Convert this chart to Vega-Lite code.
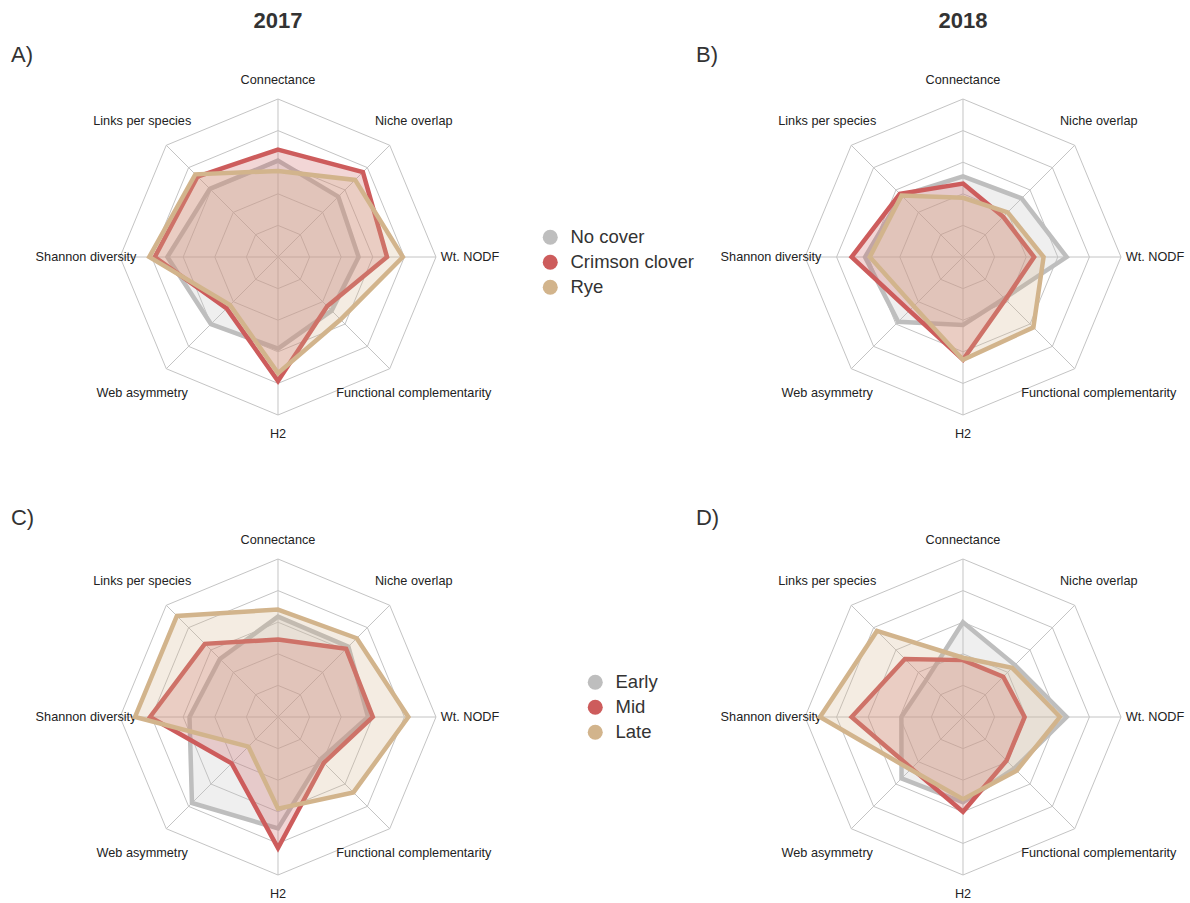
{
"$schema": "https://vega.github.io/schema/vega-lite/v6.json",
"padding": 0,
"background": "white",
"config": {"view": {"stroke": null}, "font": "Liberation Sans"},
"datasets": {
"polys": [
{"p":"A","g":"No cover","i":0,"v":0.61},{"p":"A","g":"No cover","i":1,"v":0.54},{"p":"A","g":"No cover","i":2,"v":0.51},{"p":"A","g":"No cover","i":3,"v":0.48},{"p":"A","g":"No cover","i":4,"v":0.58},{"p":"A","g":"No cover","i":5,"v":0.60},{"p":"A","g":"No cover","i":6,"v":0.70},{"p":"A","g":"No cover","i":7,"v":0.61},
{"p":"A","g":"Crimson clover","i":0,"v":0.68},{"p":"A","g":"Crimson clover","i":1,"v":0.76},{"p":"A","g":"Crimson clover","i":2,"v":0.69},{"p":"A","g":"Crimson clover","i":3,"v":0.44},{"p":"A","g":"Crimson clover","i":4,"v":0.785},{"p":"A","g":"Crimson clover","i":5,"v":0.46},{"p":"A","g":"Crimson clover","i":6,"v":0.78},{"p":"A","g":"Crimson clover","i":7,"v":0.72},
{"p":"A","g":"Rye","i":0,"v":0.545},{"p":"A","g":"Rye","i":1,"v":0.69},{"p":"A","g":"Rye","i":2,"v":0.79},{"p":"A","g":"Rye","i":3,"v":0.56},{"p":"A","g":"Rye","i":4,"v":0.735},{"p":"A","g":"Rye","i":5,"v":0.43},{"p":"A","g":"Rye","i":6,"v":0.815},{"p":"A","g":"Rye","i":7,"v":0.74},
{"p":"B","g":"No cover","i":0,"v":0.51},{"p":"B","g":"No cover","i":1,"v":0.525},{"p":"B","g":"No cover","i":2,"v":0.656},{"p":"B","g":"No cover","i":3,"v":0.37},{"p":"B","g":"No cover","i":4,"v":0.43},{"p":"B","g":"No cover","i":5,"v":0.58},{"p":"B","g":"No cover","i":6,"v":0.62},{"p":"B","g":"No cover","i":7,"v":0.55},
{"p":"B","g":"Crimson clover","i":0,"v":0.465},{"p":"B","g":"Crimson clover","i":1,"v":0.36},{"p":"B","g":"Crimson clover","i":2,"v":0.45},{"p":"B","g":"Crimson clover","i":3,"v":0.38},{"p":"B","g":"Crimson clover","i":4,"v":0.65},{"p":"B","g":"Crimson clover","i":5,"v":0.48},{"p":"B","g":"Crimson clover","i":6,"v":0.705},{"p":"B","g":"Crimson clover","i":7,"v":0.565},
{"p":"B","g":"Rye","i":0,"v":0.375},{"p":"B","g":"Rye","i":1,"v":0.40},{"p":"B","g":"Rye","i":2,"v":0.51},{"p":"B","g":"Rye","i":3,"v":0.63},{"p":"B","g":"Rye","i":4,"v":0.65},{"p":"B","g":"Rye","i":5,"v":0.44},{"p":"B","g":"Rye","i":6,"v":0.59},{"p":"B","g":"Rye","i":7,"v":0.55},
{"p":"C","g":"Early","i":0,"v":0.635},{"p":"C","g":"Early","i":1,"v":0.63},{"p":"C","g":"Early","i":2,"v":0.57},{"p":"C","g":"Early","i":3,"v":0.38},{"p":"C","g":"Early","i":4,"v":0.705},{"p":"C","g":"Early","i":5,"v":0.77},{"p":"C","g":"Early","i":6,"v":0.56},{"p":"C","g":"Early","i":7,"v":0.52},
{"p":"C","g":"Mid","i":0,"v":0.49},{"p":"C","g":"Mid","i":1,"v":0.61},{"p":"C","g":"Mid","i":2,"v":0.60},{"p":"C","g":"Mid","i":3,"v":0.41},{"p":"C","g":"Mid","i":4,"v":0.83},{"p":"C","g":"Mid","i":5,"v":0.415},{"p":"C","g":"Mid","i":6,"v":0.81},{"p":"C","g":"Mid","i":7,"v":0.655},
{"p":"C","g":"Late","i":0,"v":0.68},{"p":"C","g":"Late","i":1,"v":0.705},{"p":"C","g":"Late","i":2,"v":0.825},{"p":"C","g":"Late","i":3,"v":0.675},{"p":"C","g":"Late","i":4,"v":0.58},{"p":"C","g":"Late","i":5,"v":0.265},{"p":"C","g":"Late","i":6,"v":0.905},{"p":"C","g":"Late","i":7,"v":0.905},
{"p":"D","g":"Early","i":0,"v":0.60},{"p":"D","g":"Early","i":1,"v":0.465},{"p":"D","g":"Early","i":2,"v":0.656},{"p":"D","g":"Early","i":3,"v":0.46},{"p":"D","g":"Early","i":4,"v":0.54},{"p":"D","g":"Early","i":5,"v":0.55},{"p":"D","g":"Early","i":6,"v":0.39},{"p":"D","g":"Early","i":7,"v":0.33},
{"p":"D","g":"Mid","i":0,"v":0.36},{"p":"D","g":"Mid","i":1,"v":0.36},{"p":"D","g":"Mid","i":2,"v":0.39},{"p":"D","g":"Mid","i":3,"v":0.39},{"p":"D","g":"Mid","i":4,"v":0.60},{"p":"D","g":"Mid","i":5,"v":0.46},{"p":"D","g":"Mid","i":6,"v":0.705},{"p":"D","g":"Mid","i":7,"v":0.52},
{"p":"D","g":"Late","i":0,"v":0.375},{"p":"D","g":"Late","i":1,"v":0.44},{"p":"D","g":"Late","i":2,"v":0.614},{"p":"D","g":"Late","i":3,"v":0.48},{"p":"D","g":"Late","i":4,"v":0.52},{"p":"D","g":"Late","i":5,"v":0.47},{"p":"D","g":"Late","i":6,"v":0.905},{"p":"D","g":"Late","i":7,"v":0.77}
],
"grid": [
{"lvl":0.2,"i":0},{"lvl":0.2,"i":1},{"lvl":0.2,"i":2},{"lvl":0.2,"i":3},{"lvl":0.2,"i":4},{"lvl":0.2,"i":5},{"lvl":0.2,"i":6},{"lvl":0.2,"i":7},
{"lvl":0.4,"i":0},{"lvl":0.4,"i":1},{"lvl":0.4,"i":2},{"lvl":0.4,"i":3},{"lvl":0.4,"i":4},{"lvl":0.4,"i":5},{"lvl":0.4,"i":6},{"lvl":0.4,"i":7},
{"lvl":0.6,"i":0},{"lvl":0.6,"i":1},{"lvl":0.6,"i":2},{"lvl":0.6,"i":3},{"lvl":0.6,"i":4},{"lvl":0.6,"i":5},{"lvl":0.6,"i":6},{"lvl":0.6,"i":7},
{"lvl":0.8,"i":0},{"lvl":0.8,"i":1},{"lvl":0.8,"i":2},{"lvl":0.8,"i":3},{"lvl":0.8,"i":4},{"lvl":0.8,"i":5},{"lvl":0.8,"i":6},{"lvl":0.8,"i":7},
{"lvl":1.0,"i":0},{"lvl":1.0,"i":1},{"lvl":1.0,"i":2},{"lvl":1.0,"i":3},{"lvl":1.0,"i":4},{"lvl":1.0,"i":5},{"lvl":1.0,"i":6},{"lvl":1.0,"i":7}
],
"axes": [
{"i":0,"a":"Connectance"},{"i":1,"a":"Niche overlap"},{"i":2,"a":"Wt. NODF"},{"i":3,"a":"Functional complementarity"},{"i":4,"a":"H2"},{"i":5,"a":"Web asymmetry"},{"i":6,"a":"Shannon diversity"},{"i":7,"a":"Links per species"}
],
"tags": [
{"p":"A","k":"letter","t":"A)"},{"p":"A","k":"year","t":"2017"},
{"p":"B","k":"letter","t":"B)"},{"p":"B","k":"year","t":"2018"},
{"p":"C","k":"letter","t":"C)"},
{"p":"D","k":"letter","t":"D)"}
]
},
"spacing": 0,
"resolve": {"scale": {"x": "independent", "y": "independent", "fill": "independent", "stroke": "independent"}},
"vconcat": [
{
"hconcat": [
{
"width": 500, "height": 460,
"layer": [
{"data": {"name": "grid"}, "transform": [{"calculate": "datum.lvl*sin(datum.i*PI/4)", "as": "gx"}, {"calculate": "datum.lvl*cos(datum.i*PI/4)", "as": "gy"}],
 "mark": {"type": "line", "interpolate": "linear-closed", "stroke": "#c4c4c4", "strokeWidth": 1},
 "encoding": {"x": {"field": "gx", "type": "quantitative", "scale": {"domain": [-1.7595, 1.4051], "nice": false, "zero": false}, "axis": null}, "y": {"field": "gy", "type": "quantitative", "scale": {"domain": [-1.2848, 1.6266], "nice": false, "zero": false}, "axis": null}, "detail": {"field": "lvl", "type": "nominal"}, "order": {"field": "i", "type": "quantitative"}}},
{"data": {"name": "axes"}, "transform": [{"calculate": "sin(datum.i*PI/4)", "as": "ox"}, {"calculate": "cos(datum.i*PI/4)", "as": "oy"}],
 "mark": {"type": "rule", "stroke": "#c4c4c4", "strokeWidth": 1},
 "encoding": {"x": {"field": "ox", "type": "quantitative", "scale": {"domain": [-1.7595, 1.4051], "nice": false, "zero": false}, "axis": null}, "y": {"field": "oy", "type": "quantitative", "scale": {"domain": [-1.2848, 1.6266], "nice": false, "zero": false}, "axis": null}, "x2": {"datum": 0}, "y2": {"datum": 0}}},
{"data": {"name": "axes"}, "transform": [{"calculate": "(datum.i==0||datum.i==4)?1.12:1.215", "as": "lr"}, {"calculate": "datum.lr*sin(datum.i*PI/4)", "as": "lx"}, {"calculate": "datum.lr*cos(datum.i*PI/4)", "as": "ly"}],
 "mark": {"type": "text", "fontSize": 12.7, "font": "Liberation Sans", "fill": "#222", "align": "center", "baseline": "middle"},
 "encoding": {"x": {"field": "lx", "type": "quantitative", "scale": {"domain": [-1.7595, 1.4051], "nice": false, "zero": false}, "axis": null}, "y": {"field": "ly", "type": "quantitative", "scale": {"domain": [-1.2848, 1.6266], "nice": false, "zero": false}, "axis": null}, "text": {"field": "a", "type": "nominal"}}},
{"data": {"name": "polys"}, "transform": [{"filter": "datum.p=='A'"}, {"calculate": "datum.v*sin(datum.i*PI/4)", "as": "px"}, {"calculate": "datum.v*cos(datum.i*PI/4)", "as": "py"}],
 "encoding": {"x": {"field": "px", "type": "quantitative", "scale": {"domain": [-1.7595, 1.4051], "nice": false, "zero": false}, "axis": null}, "y": {"field": "py", "type": "quantitative", "scale": {"domain": [-1.2848, 1.6266], "nice": false, "zero": false}, "axis": null}, "order": {"field": "i", "type": "quantitative"},
  "stroke": {"field": "g", "type": "nominal", "scale": {"domain": ["No cover", "Crimson clover", "Rye"], "range": ["#bebebe", "#cd5c5c", "#d2b48c"]}, "legend": null},
  "fill": {"field": "g", "type": "nominal", "scale": {"domain": ["No cover", "Crimson clover", "Rye"], "range": ["#bebebe", "#cd5c5c", "#d2b48c"]}, "legend": {"title": null, "orient": "none", "legendX": 541, "legendY": 228, "symbolType": "circle", "symbolSize": 225, "symbolOpacity": 1, "symbolStrokeWidth": 0, "labelFontSize": 18.5, "labelFont": "Liberation Sans", "labelColor": "#333", "labelOffset": 11, "rowPadding": 6}}},
 "layer": [
  {"transform": [{"filter": "datum.g=='No cover'"}], "mark": {"type": "line", "interpolate": "linear-closed", "strokeWidth": 4.5, "fillOpacity": 0.25}},
  {"transform": [{"filter": "datum.g=='Crimson clover'"}], "mark": {"type": "line", "interpolate": "linear-closed", "strokeWidth": 4.5, "fillOpacity": 0.25}},
  {"transform": [{"filter": "datum.g=='Rye'"}], "mark": {"type": "line", "interpolate": "linear-closed", "strokeWidth": 4.5, "fillOpacity": 0.25}}
 ]},
{"data": {"name": "tags"}, "transform": [{"filter": "datum.p=='A' && datum.k=='letter'"}],
 "mark": {"type": "text", "fontSize": 22, "font": "Liberation Sans", "fill": "#333", "align": "left", "baseline": "alphabetic"},
 "encoding": {"x": {"datum": -1.69, "type": "quantitative", "scale": {"domain": [-1.7595, 1.4051], "nice": false, "zero": false}, "axis": null}, "y": {"datum": 1.234, "type": "quantitative", "scale": {"domain": [-1.2848, 1.6266], "nice": false, "zero": false}, "axis": null}, "text": {"field": "t", "type": "nominal"}}},
{"data": {"name": "tags"}, "transform": [{"filter": "datum.p=='A' && datum.k=='year'"}],
 "mark": {"type": "text", "fontSize": 22, "font": "Liberation Sans", "fontWeight": "bold", "fill": "#333", "align": "center", "baseline": "alphabetic"},
 "encoding": {"x": {"datum": 0, "type": "quantitative", "scale": {"domain": [-1.7595, 1.4051], "nice": false, "zero": false}, "axis": null}, "y": {"datum": 1.449, "type": "quantitative", "scale": {"domain": [-1.2848, 1.6266], "nice": false, "zero": false}, "axis": null}, "text": {"field": "t", "type": "nominal"}}}
]
},
{
"width": 500, "height": 460,
"layer": [
{"data": {"name": "grid"}, "transform": [{"calculate": "datum.lvl*sin(datum.i*PI/4)", "as": "gx"}, {"calculate": "datum.lvl*cos(datum.i*PI/4)", "as": "gy"}],
 "mark": {"type": "line", "interpolate": "linear-closed", "stroke": "#c4c4c4", "strokeWidth": 1},
 "encoding": {"x": {"field": "gx", "type": "quantitative", "scale": {"domain": [-1.7595, 1.4051], "nice": false, "zero": false}, "axis": null}, "y": {"field": "gy", "type": "quantitative", "scale": {"domain": [-1.2848, 1.6266], "nice": false, "zero": false}, "axis": null}, "detail": {"field": "lvl", "type": "nominal"}, "order": {"field": "i", "type": "quantitative"}}},
{"data": {"name": "axes"}, "transform": [{"calculate": "sin(datum.i*PI/4)", "as": "ox"}, {"calculate": "cos(datum.i*PI/4)", "as": "oy"}],
 "mark": {"type": "rule", "stroke": "#c4c4c4", "strokeWidth": 1},
 "encoding": {"x": {"field": "ox", "type": "quantitative", "scale": {"domain": [-1.7595, 1.4051], "nice": false, "zero": false}, "axis": null}, "y": {"field": "oy", "type": "quantitative", "scale": {"domain": [-1.2848, 1.6266], "nice": false, "zero": false}, "axis": null}, "x2": {"datum": 0}, "y2": {"datum": 0}}},
{"data": {"name": "axes"}, "transform": [{"calculate": "(datum.i==0||datum.i==4)?1.12:1.215", "as": "lr"}, {"calculate": "datum.lr*sin(datum.i*PI/4)", "as": "lx"}, {"calculate": "datum.lr*cos(datum.i*PI/4)", "as": "ly"}],
 "mark": {"type": "text", "fontSize": 12.7, "font": "Liberation Sans", "fill": "#222", "align": "center", "baseline": "middle"},
 "encoding": {"x": {"field": "lx", "type": "quantitative", "scale": {"domain": [-1.7595, 1.4051], "nice": false, "zero": false}, "axis": null}, "y": {"field": "ly", "type": "quantitative", "scale": {"domain": [-1.2848, 1.6266], "nice": false, "zero": false}, "axis": null}, "text": {"field": "a", "type": "nominal"}}},
{"data": {"name": "polys"}, "transform": [{"filter": "datum.p=='B'"}, {"calculate": "datum.v*sin(datum.i*PI/4)", "as": "px"}, {"calculate": "datum.v*cos(datum.i*PI/4)", "as": "py"}],
 "encoding": {"x": {"field": "px", "type": "quantitative", "scale": {"domain": [-1.7595, 1.4051], "nice": false, "zero": false}, "axis": null}, "y": {"field": "py", "type": "quantitative", "scale": {"domain": [-1.2848, 1.6266], "nice": false, "zero": false}, "axis": null}, "order": {"field": "i", "type": "quantitative"},
  "stroke": {"field": "g", "type": "nominal", "scale": {"domain": ["No cover", "Crimson clover", "Rye"], "range": ["#bebebe", "#cd5c5c", "#d2b48c"]}, "legend": null},
  "fill": {"field": "g", "type": "nominal", "scale": {"domain": ["No cover", "Crimson clover", "Rye"], "range": ["#bebebe", "#cd5c5c", "#d2b48c"]}, "legend": {"title": null, "orient": "none", "legendX": 541, "legendY": 228, "symbolType": "circle", "symbolSize": 225, "symbolOpacity": 1, "symbolStrokeWidth": 0, "labelFontSize": 18.5, "labelFont": "Liberation Sans", "labelColor": "#333", "labelOffset": 11, "rowPadding": 6}}},
 "layer": [
  {"transform": [{"filter": "datum.g=='No cover'"}], "mark": {"type": "line", "interpolate": "linear-closed", "strokeWidth": 4.5, "fillOpacity": 0.25}},
  {"transform": [{"filter": "datum.g=='Crimson clover'"}], "mark": {"type": "line", "interpolate": "linear-closed", "strokeWidth": 4.5, "fillOpacity": 0.25}},
  {"transform": [{"filter": "datum.g=='Rye'"}], "mark": {"type": "line", "interpolate": "linear-closed", "strokeWidth": 4.5, "fillOpacity": 0.25}}
 ]},
{"data": {"name": "tags"}, "transform": [{"filter": "datum.p=='B' && datum.k=='letter'"}],
 "mark": {"type": "text", "fontSize": 22, "font": "Liberation Sans", "fill": "#333", "align": "left", "baseline": "alphabetic"},
 "encoding": {"x": {"datum": -1.69, "type": "quantitative", "scale": {"domain": [-1.7595, 1.4051], "nice": false, "zero": false}, "axis": null}, "y": {"datum": 1.234, "type": "quantitative", "scale": {"domain": [-1.2848, 1.6266], "nice": false, "zero": false}, "axis": null}, "text": {"field": "t", "type": "nominal"}}},
{"data": {"name": "tags"}, "transform": [{"filter": "datum.p=='B' && datum.k=='year'"}],
 "mark": {"type": "text", "fontSize": 22, "font": "Liberation Sans", "fontWeight": "bold", "fill": "#333", "align": "center", "baseline": "alphabetic"},
 "encoding": {"x": {"datum": 0, "type": "quantitative", "scale": {"domain": [-1.7595, 1.4051], "nice": false, "zero": false}, "axis": null}, "y": {"datum": 1.449, "type": "quantitative", "scale": {"domain": [-1.2848, 1.6266], "nice": false, "zero": false}, "axis": null}, "text": {"field": "t", "type": "nominal"}}}
]
}
],
"spacing": 185,
"bounds": "flush",
"resolve": {"scale": {"x": "independent", "y": "independent", "fill": "shared", "stroke": "shared"}}
},
{
"hconcat": [
{
"width": 500, "height": 443,
"layer": [
{"data": {"name": "grid"}, "transform": [{"calculate": "datum.lvl*sin(datum.i*PI/4)", "as": "gx"}, {"calculate": "datum.lvl*cos(datum.i*PI/4)", "as": "gy"}],
 "mark": {"type": "line", "interpolate": "linear-closed", "stroke": "#c4c4c4", "strokeWidth": 1},
 "encoding": {"x": {"field": "gx", "type": "quantitative", "scale": {"domain": [-1.7595, 1.4051], "nice": false, "zero": false}, "axis": null}, "y": {"field": "gy", "type": "quantitative", "scale": {"domain": [-1.1772, 1.6266], "nice": false, "zero": false}, "axis": null}, "detail": {"field": "lvl", "type": "nominal"}, "order": {"field": "i", "type": "quantitative"}}},
{"data": {"name": "axes"}, "transform": [{"calculate": "sin(datum.i*PI/4)", "as": "ox"}, {"calculate": "cos(datum.i*PI/4)", "as": "oy"}],
 "mark": {"type": "rule", "stroke": "#c4c4c4", "strokeWidth": 1},
 "encoding": {"x": {"field": "ox", "type": "quantitative", "scale": {"domain": [-1.7595, 1.4051], "nice": false, "zero": false}, "axis": null}, "y": {"field": "oy", "type": "quantitative", "scale": {"domain": [-1.1772, 1.6266], "nice": false, "zero": false}, "axis": null}, "x2": {"datum": 0}, "y2": {"datum": 0}}},
{"data": {"name": "axes"}, "transform": [{"calculate": "(datum.i==0||datum.i==4)?1.12:1.215", "as": "lr"}, {"calculate": "datum.lr*sin(datum.i*PI/4)", "as": "lx"}, {"calculate": "datum.lr*cos(datum.i*PI/4)", "as": "ly"}],
 "mark": {"type": "text", "fontSize": 12.7, "font": "Liberation Sans", "fill": "#222", "align": "center", "baseline": "middle"},
 "encoding": {"x": {"field": "lx", "type": "quantitative", "scale": {"domain": [-1.7595, 1.4051], "nice": false, "zero": false}, "axis": null}, "y": {"field": "ly", "type": "quantitative", "scale": {"domain": [-1.1772, 1.6266], "nice": false, "zero": false}, "axis": null}, "text": {"field": "a", "type": "nominal"}}},
{"data": {"name": "polys"}, "transform": [{"filter": "datum.p=='C'"}, {"calculate": "datum.v*sin(datum.i*PI/4)", "as": "px"}, {"calculate": "datum.v*cos(datum.i*PI/4)", "as": "py"}],
 "encoding": {"x": {"field": "px", "type": "quantitative", "scale": {"domain": [-1.7595, 1.4051], "nice": false, "zero": false}, "axis": null}, "y": {"field": "py", "type": "quantitative", "scale": {"domain": [-1.1772, 1.6266], "nice": false, "zero": false}, "axis": null}, "order": {"field": "i", "type": "quantitative"},
  "stroke": {"field": "g", "type": "nominal", "scale": {"domain": ["Early", "Mid", "Late"], "range": ["#bebebe", "#cd5c5c", "#d2b48c"]}, "legend": null},
  "fill": {"field": "g", "type": "nominal", "scale": {"domain": ["Early", "Mid", "Late"], "range": ["#bebebe", "#cd5c5c", "#d2b48c"]}, "legend": {"title": null, "orient": "none", "legendX": 586, "legendY": 213, "symbolType": "circle", "symbolSize": 225, "symbolOpacity": 1, "symbolStrokeWidth": 0, "labelFontSize": 18.5, "labelFont": "Liberation Sans", "labelColor": "#333", "labelOffset": 11, "rowPadding": 6}}},
 "layer": [
  {"transform": [{"filter": "datum.g=='Early'"}], "mark": {"type": "line", "interpolate": "linear-closed", "strokeWidth": 4.5, "fillOpacity": 0.25}},
  {"transform": [{"filter": "datum.g=='Mid'"}], "mark": {"type": "line", "interpolate": "linear-closed", "strokeWidth": 4.5, "fillOpacity": 0.25}},
  {"transform": [{"filter": "datum.g=='Late'"}], "mark": {"type": "line", "interpolate": "linear-closed", "strokeWidth": 4.5, "fillOpacity": 0.25}}
 ]},
{"data": {"name": "tags"}, "transform": [{"filter": "datum.p=='C' && datum.k=='letter'"}],
 "mark": {"type": "text", "fontSize": 22, "font": "Liberation Sans", "fill": "#333", "align": "left", "baseline": "alphabetic"},
 "encoding": {"x": {"datum": -1.69, "type": "quantitative", "scale": {"domain": [-1.7595, 1.4051], "nice": false, "zero": false}, "axis": null}, "y": {"datum": 1.215, "type": "quantitative", "scale": {"domain": [-1.1772, 1.6266], "nice": false, "zero": false}, "axis": null}, "text": {"field": "t", "type": "nominal"}}}
]
},
{
"width": 500, "height": 443,
"layer": [
{"data": {"name": "grid"}, "transform": [{"calculate": "datum.lvl*sin(datum.i*PI/4)", "as": "gx"}, {"calculate": "datum.lvl*cos(datum.i*PI/4)", "as": "gy"}],
 "mark": {"type": "line", "interpolate": "linear-closed", "stroke": "#c4c4c4", "strokeWidth": 1},
 "encoding": {"x": {"field": "gx", "type": "quantitative", "scale": {"domain": [-1.7595, 1.4051], "nice": false, "zero": false}, "axis": null}, "y": {"field": "gy", "type": "quantitative", "scale": {"domain": [-1.1772, 1.6266], "nice": false, "zero": false}, "axis": null}, "detail": {"field": "lvl", "type": "nominal"}, "order": {"field": "i", "type": "quantitative"}}},
{"data": {"name": "axes"}, "transform": [{"calculate": "sin(datum.i*PI/4)", "as": "ox"}, {"calculate": "cos(datum.i*PI/4)", "as": "oy"}],
 "mark": {"type": "rule", "stroke": "#c4c4c4", "strokeWidth": 1},
 "encoding": {"x": {"field": "ox", "type": "quantitative", "scale": {"domain": [-1.7595, 1.4051], "nice": false, "zero": false}, "axis": null}, "y": {"field": "oy", "type": "quantitative", "scale": {"domain": [-1.1772, 1.6266], "nice": false, "zero": false}, "axis": null}, "x2": {"datum": 0}, "y2": {"datum": 0}}},
{"data": {"name": "axes"}, "transform": [{"calculate": "(datum.i==0||datum.i==4)?1.12:1.215", "as": "lr"}, {"calculate": "datum.lr*sin(datum.i*PI/4)", "as": "lx"}, {"calculate": "datum.lr*cos(datum.i*PI/4)", "as": "ly"}],
 "mark": {"type": "text", "fontSize": 12.7, "font": "Liberation Sans", "fill": "#222", "align": "center", "baseline": "middle"},
 "encoding": {"x": {"field": "lx", "type": "quantitative", "scale": {"domain": [-1.7595, 1.4051], "nice": false, "zero": false}, "axis": null}, "y": {"field": "ly", "type": "quantitative", "scale": {"domain": [-1.1772, 1.6266], "nice": false, "zero": false}, "axis": null}, "text": {"field": "a", "type": "nominal"}}},
{"data": {"name": "polys"}, "transform": [{"filter": "datum.p=='D'"}, {"calculate": "datum.v*sin(datum.i*PI/4)", "as": "px"}, {"calculate": "datum.v*cos(datum.i*PI/4)", "as": "py"}],
 "encoding": {"x": {"field": "px", "type": "quantitative", "scale": {"domain": [-1.7595, 1.4051], "nice": false, "zero": false}, "axis": null}, "y": {"field": "py", "type": "quantitative", "scale": {"domain": [-1.1772, 1.6266], "nice": false, "zero": false}, "axis": null}, "order": {"field": "i", "type": "quantitative"},
  "stroke": {"field": "g", "type": "nominal", "scale": {"domain": ["Early", "Mid", "Late"], "range": ["#bebebe", "#cd5c5c", "#d2b48c"]}, "legend": null},
  "fill": {"field": "g", "type": "nominal", "scale": {"domain": ["Early", "Mid", "Late"], "range": ["#bebebe", "#cd5c5c", "#d2b48c"]}, "legend": {"title": null, "orient": "none", "legendX": 586, "legendY": 213, "symbolType": "circle", "symbolSize": 225, "symbolOpacity": 1, "symbolStrokeWidth": 0, "labelFontSize": 18.5, "labelFont": "Liberation Sans", "labelColor": "#333", "labelOffset": 11, "rowPadding": 6}}},
 "layer": [
  {"transform": [{"filter": "datum.g=='Early'"}], "mark": {"type": "line", "interpolate": "linear-closed", "strokeWidth": 4.5, "fillOpacity": 0.25}},
  {"transform": [{"filter": "datum.g=='Mid'"}], "mark": {"type": "line", "interpolate": "linear-closed", "strokeWidth": 4.5, "fillOpacity": 0.25}},
  {"transform": [{"filter": "datum.g=='Late'"}], "mark": {"type": "line", "interpolate": "linear-closed", "strokeWidth": 4.5, "fillOpacity": 0.25}}
 ]},
{"data": {"name": "tags"}, "transform": [{"filter": "datum.p=='D' && datum.k=='letter'"}],
 "mark": {"type": "text", "fontSize": 22, "font": "Liberation Sans", "fill": "#333", "align": "left", "baseline": "alphabetic"},
 "encoding": {"x": {"datum": -1.69, "type": "quantitative", "scale": {"domain": [-1.7595, 1.4051], "nice": false, "zero": false}, "axis": null}, "y": {"datum": 1.215, "type": "quantitative", "scale": {"domain": [-1.1772, 1.6266], "nice": false, "zero": false}, "axis": null}, "text": {"field": "t", "type": "nominal"}}}
]
}
],
"spacing": 185,
"bounds": "flush",
"resolve": {"scale": {"x": "independent", "y": "independent", "fill": "shared", "stroke": "shared"}}
}
]
}
